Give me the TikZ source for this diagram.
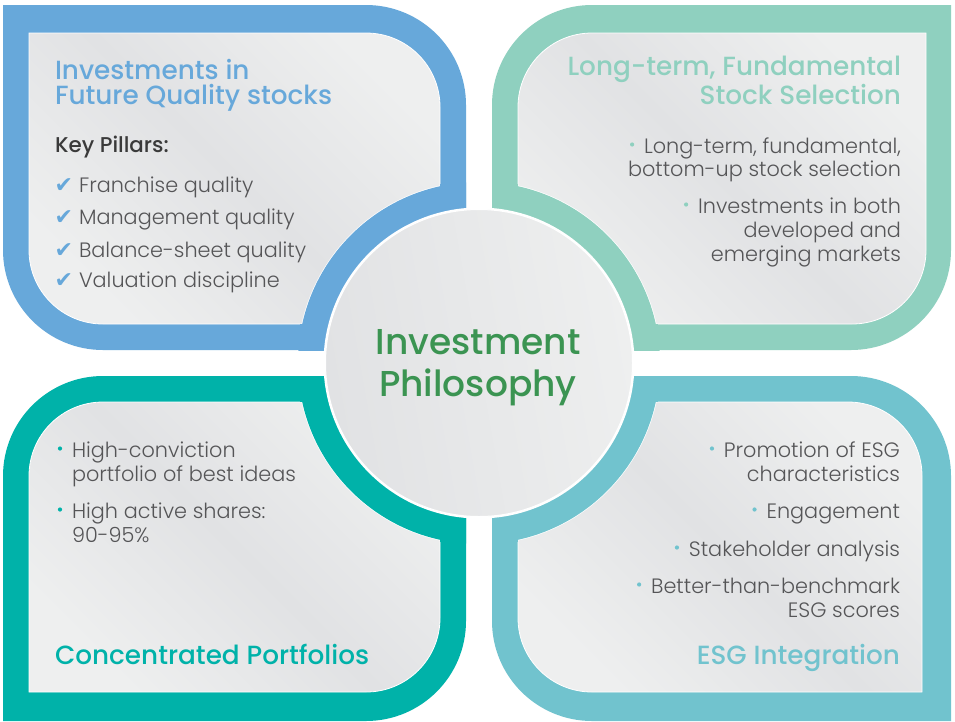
\documentclass[tikz,border=0pt]{standalone}
\usepackage{fontspec}
\usetikzlibrary{calc}
\IfFontExistsTF{Poppins Light}{\newfontfamily\bodyf{Poppins Light}}{\newfontfamily\bodyf{Poppins}}
\IfFontExistsTF{Poppins Medium}{\newfontfamily\headf{Poppins Medium}}{\newfontfamily\headf{Poppins}}
\newfontfamily\symf{DejaVu Sans}
\definecolor{blueC}{HTML}{67A8DA}
\definecolor{mintC}{HTML}{8FD0BF}
\definecolor{tealC}{HTML}{00B2A9}
\definecolor{cyanC}{HTML}{71C3CE}
\definecolor{greenT}{HTML}{3B9452}
\definecolor{textC}{HTML}{555557}
\definecolor{keyC}{HTML}{3A3A3A}
\definecolor{grayL}{HTML}{EEEFEF}
\definecolor{grayD}{HTML}{E1E2E4}
\tikzset{
  inset/.style={left color=grayL, right color=grayL, middle color=grayD, shading angle=135, draw=white, line width=0.8pt},
  txt/.style={inner sep=0pt, outer sep=0pt, font=\bodyf\fontsize{20.8}{24}\selectfont, text=textC},
  head/.style={inner sep=0pt, outer sep=0pt, font=\headf\fontsize{26.3}{24.5}\selectfont},
  chk/.style={inner sep=0pt, outer sep=0pt, font=\symf\fontsize{22}{24}\selectfont, text=blueC},
}
\begin{document}
\begin{tikzpicture}[x=1pt,y=-1pt]
\useasboundingbox (0,0) rectangle (955,721);
\fill[white] (0,0) rectangle (955,721);
\coordinate (C) at (479,363);
% outer coloured frames
\fill[blueC] (3,5) -- (366,5) .. controls (421.2,5) and (466,49.8) .. (466,105) -- (466,350) -- (103,350) .. controls (47.8,350) and (3,305.2) .. (3,250) -- cycle;
\fill[mintC] (951,5) -- (951,250) .. controls (951,305.2) and (906.2,350) .. (851,350) -- (492,350) -- (492,105) .. controls (492,49.8) and (536.8,5) .. (592,5) -- cycle;
\fill[tealC] (3,721) -- (3,476) .. controls (3,420.8) and (47.8,376) .. (103,376) -- (466,376) -- (466,621) .. controls (466,676.2) and (421.2,721) .. (366,721) -- cycle;
\fill[cyanC] (951,721) -- (951,476) .. controls (951,420.8) and (906.2,376) .. (851,376) -- (492,376) -- (492,621) .. controls (492,676.2) and (536.8,721) .. (592,721) -- cycle;
% inner grey panels
\path[inset] (29,33) -- (366,33) .. controls (406.9,33) and (440,66.1) .. (440,107) -- (440,324) -- (103,324) .. controls (62.1,324) and (29,290.9) .. (29,250) -- cycle;
\path[inset] (926,33) -- (926,250) .. controls (926,290.9) and (892.9,324) .. (852,324) -- (518,324) -- (518,107) .. controls (518,66.1) and (551.1,33) .. (592,33) -- cycle;
\path[inset] (29,692) -- (29,476) .. controls (29,435.1) and (62.1,402) .. (103,402) -- (440,402) -- (440,618) .. controls (440,658.9) and (406.9,692) .. (366,692) -- cycle;
\path[inset] (922,692) -- (922,476) .. controls (922,435.1) and (888.9,402) .. (848,402) -- (518,402) -- (518,618) .. controls (518,658.9) and (551.1,692) .. (592,692) -- cycle;
% rings around the centre
\begin{scope}\clip (3,5) rectangle (466,350); \draw[white, line width=1pt] (C) circle (181.2); \fill[blueC] (C) circle (181); \end{scope}
\begin{scope}\clip (492,5) rectangle (951,350); \draw[white, line width=1pt] (C) circle (181.2); \fill[mintC] (C) circle (181); \end{scope}
\begin{scope}\clip (3,376) rectangle (466,721); \draw[white, line width=1pt] (C) circle (181.2); \fill[tealC] (C) circle (181); \end{scope}
\begin{scope}\clip (492,376) rectangle (951,721); \draw[white, line width=1pt] (C) circle (181.2); \fill[cyanC] (C) circle (181); \end{scope}
% re-cover the outer bands where the white edge line crossed them
\begin{scope}
  \clip (C) circle (183);
  \fill[blueC] (440,5) rectangle (466,350);  \fill[blueC] (3,324) rectangle (466,350);
  \fill[mintC] (492,5) rectangle (518,350);  \fill[mintC] (492,324) rectangle (951,350);
  \fill[tealC] (440,376) rectangle (466,721); \fill[tealC] (3,376) rectangle (466,402);
  \fill[cyanC] (492,376) rectangle (518,721); \fill[cyanC] (492,376) rectangle (951,402);
\end{scope}
% centre disc
\fill[white] (C) circle (155.5);
\path[left color=grayD, right color=grayL, shading angle=100, draw=white, line width=1pt] (C) circle (153.5);
\node[head, font=\headf\fontsize{36}{42}\selectfont, text=greenT, align=center, anchor=base] (c1) at (478,396) {Investment\\Philosophy};
% top-left panel
\node[head, text=blueC, align=left, anchor=base west] (b1) at (55,104) {Investments in\\Future Quality stocks};
\node[head, font=\headf\fontsize{21.4}{24}\selectfont, text=keyC, anchor=base west] (bk) at (55,152) {Key Pillars:};
\node[txt, anchor=base west] (bp1) at (79,192) {Franchise quality};
\node[txt, anchor=base west] (bp2) at (79,224) {Management quality};
\node[txt, anchor=base west] (bp3) at (79,257) {Balance-sheet quality};
\node[txt, anchor=base west] (bp4) at (79,287) {Valuation discipline};
\foreach \n in {bp1,bp2,bp3,bp4} \node[chk, anchor=base east] (ck\n) at ($(\n.base west)+(-6,0)$) {✔};
% top-right panel
\node[head, text=mintC, align=right, anchor=base east] (g1) at (901,104) {Long-term, Fundamental\\Stock Selection};
\node[txt, anchor=base east] (gp1) at (901,153) {Long-term, fundamental,};
\node[txt, anchor=base east] (gp1b) at (901,176) {bottom-up stock selection};
\node[txt, anchor=base east] (gp2) at (901,213) {Investments in both};
\node[txt, anchor=base east] (gp2b) at (901,237) {developed and};
\node[txt, anchor=base east] (gp2c) at (901,261) {emerging markets};
\foreach \n in {gp1,gp2} \fill[mintC] ($(\n.base west)+(-12,-8.5)$) circle (2.1);
% bottom-left panel
\node[txt, anchor=base west] (tp1) at (72,457) {High-conviction};
\node[txt, anchor=base west] (tp1b) at (72,481) {portfolio of best ideas};
\node[txt, anchor=base west] (tp2) at (72,518) {High active shares:};
\node[txt, anchor=base west] (tp2b) at (72,542) {90-95\%};
\foreach \n in {tp1,tp2} \fill[tealC] ($(\n.base west)+(-12,-8.5)$) circle (2.1);
\node[head, text=tealC, anchor=base west] (t1) at (55,664) {Concentrated Portfolios};
% bottom-right panel
\node[txt, anchor=base east] (cp1) at (900,457) {Promotion of ESG};
\node[txt, anchor=base east] (cp1b) at (900,481) {characteristics};
\node[txt, anchor=base east] (cp2) at (900,518) {Engagement};
\node[txt, anchor=base east] (cp3) at (900,556) {Stakeholder analysis};
\node[txt, anchor=base east] (cp4) at (900,593) {Better-than-benchmark};
\node[txt, anchor=base east] (cp4b) at (900,617) {ESG scores};
\foreach \n in {cp1,cp2,cp3,cp4} \fill[cyanC] ($(\n.base west)+(-12,-8.5)$) circle (2.1);
\node[head, text=cyanC, anchor=base east] (e1) at (900,664) {ESG Integration};
\end{tikzpicture}
\end{document}
